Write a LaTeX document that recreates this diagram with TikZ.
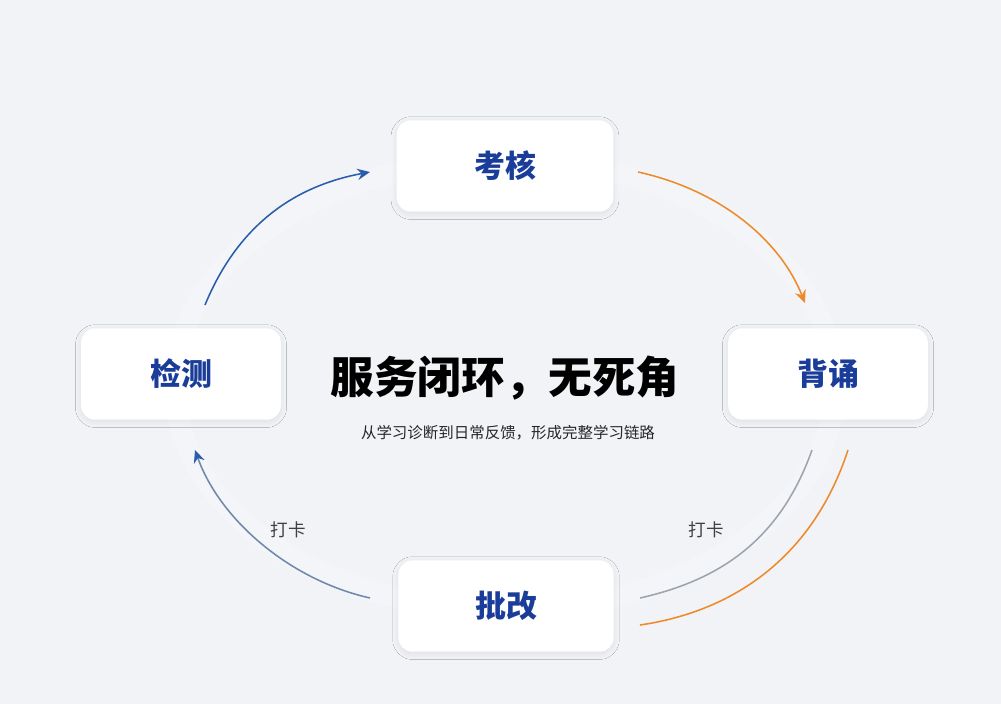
\documentclass[tikz,border=0pt]{standalone}
\usepackage{fontspec}
\setmainfont{Noto Sans CJK SC}
\usetikzlibrary{calc,shadows.blur,arrows.meta}
\definecolor{bgc}{HTML}{F1F3F7}
\definecolor{navy}{HTML}{1B3D9A}
\definecolor{arrblue}{HTML}{2B5DAD}
\definecolor{arrorange}{HTML}{EE8A2A}
\definecolor{arrgray}{HTML}{9EA4AE}
\tikzset{stage/.style = {fill=white, rounded corners=10pt, minimum width=142pt, minimum height=65pt,
    font={\fontsize{22}{22}\bfseries}, text=navy, blur shadow={shadow blur steps=10, shadow blur radius=4pt, shadow xshift=0pt, shadow yshift=-1.5pt, shadow opacity=8}}}
\tikzset{flow/.style = {line width=1.1pt}}

\begin{document}
\begin{tikzpicture}[x=0.025cm, y=-0.025cm,
    tag/.style={font={\fontsize{12.5}{12.5}\selectfont}, text=black!75},
    ]
    % Background
    \fill[bgc] (0,0) rectangle (1001,704);
    \useasboundingbox (0,0) rectangle (1001,704);
    \draw[white, line width=15pt, opacity=.2] (505,385) ellipse (330 and 225);

    % Stages
    \node[stage, minimum width=154pt] (exam)  at (505,166) {考核};
    \node[stage] (recite) at (828,374) {背诵};
    \node[stage] (check)  at (181,374) {检测};
    \node[stage, minimum width=153pt] (mark)  at (506,606) {批改};

    % Titles
    \node[font={\fontsize{31}{31}\bfseries}] (title) at (505,378) {服务闭环，无死角};
    \node[font={\fontsize{11}{11}\selectfont}, text=black!85] (sub) at (508,433) {从学习诊断到日常反馈，形成完整学习链路};

    % Connector ends
    \coordinate (c1) at (205,305);
    \coordinate (c2) at (370,172);
    \coordinate (c3) at (638,172);
    \coordinate (c4) at (805,303);
    \coordinate (c5) at (812,450);
    \coordinate (c6) at (640,598);
    \coordinate (c7) at (848,450);
    \coordinate (c8) at (640,625);
    \coordinate (c9) at (370,598);
    \coordinate (c10) at (195,450);

    % Arcs
    \draw[flow, arrblue, -{Stealth[length=9pt,width=8pt]}] (c1) .. controls (240,220) and (300,185) .. (c2);
    \draw[flow, arrorange, -{Stealth[length=9pt,width=8pt]}] (c3) .. controls (720,190) and (780,240) .. (c4);
    \draw[flow, arrgray] (c5) .. controls (780,540) and (720,580) .. (c6);
    \draw[flow, arrorange] (c7) .. controls (812,560) and (730,612) .. (c8);
    \draw[flow, arrgray!60!arrblue, -{Stealth[length=9pt,width=8pt,color=arrblue]}] (c9) .. controls (290,580) and (220,520) .. (c10);

    % Labels
    \node[tag] (lab1) at (288,530) {打卡};
    \node[tag] (lab2) at (706,530) {打卡};
\end{tikzpicture}
\end{document}
